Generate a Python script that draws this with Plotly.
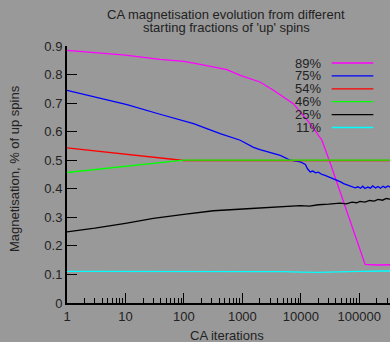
import plotly.graph_objects as go

# ---- data ----
names = ["89%", "75%", "54%", "46%", "25%", "11%"]
colors = ["#ff00ff", "#0000ff", "#ff0000", "#00ff00", "#000000", "#00ffff"]

x89 = [1, 10, 39, 100, 190, 543, 920, 2000, 3400, 7450, 14400, 23000, 31800, 60000, 103000, 126000, 200000, 336000]
y89 = [0.885, 0.868, 0.853, 0.846, 0.836, 0.817, 0.797, 0.774, 0.745, 0.698, 0.628, 0.570, 0.490, 0.327, 0.190, 0.135, 0.133, 0.134]

x75 = [1, 10.6, 39, 146, 417, 920, 1550, 2000, 4450, 6600, 9800, 11000, 12000, 13000, 14500, 16000, 18000, 20000,
       23000, 26000, 29000, 32000, 36000, 40000, 44000, 48000, 54000, 60000, 68000, 76000, 85000, 95000, 105000,
       115000, 125000, 140000, 155000, 170000, 190000, 210000, 230000, 255000, 280000, 310000, 336000]
y75 = [0.745, 0.695, 0.661, 0.628, 0.593, 0.570, 0.545, 0.537, 0.517, 0.500, 0.494, 0.488, 0.485, 0.470, 0.459, 0.462,
       0.456, 0.458, 0.450, 0.447, 0.443, 0.441, 0.436, 0.432, 0.428, 0.424, 0.418, 0.415, 0.410, 0.408, 0.403, 0.407,
       0.402, 0.409, 0.401, 0.406, 0.402, 0.410, 0.403, 0.408, 0.402, 0.409, 0.404, 0.410, 0.406]

x54 = [1, 100, 1000, 10000, 100000, 336000]
y54 = [0.543, 0.499, 0.499, 0.498, 0.499, 0.499]

x46 = [1, 100, 1000, 10000, 100000, 336000]
y46 = [0.457, 0.500, 0.500, 0.500, 0.500, 0.500]

x25 = [1, 3, 10, 30, 100, 320, 1200, 3400, 6000, 9800, 14000, 20000, 30000, 47000, 60000, 75000, 90000, 103000,
       125000, 150000, 180000, 210000, 250000, 290000, 336000]
y25 = [0.249, 0.262, 0.279, 0.296, 0.310, 0.323, 0.330, 0.336, 0.338, 0.341, 0.339, 0.344, 0.346, 0.350, 0.347,
       0.353, 0.351, 0.356, 0.353, 0.359, 0.357, 0.363, 0.360, 0.366, 0.364]

x11 = [1, 100, 1000, 5000, 10000, 15000, 20000, 30000, 50000, 100000, 336000]
y11 = [0.111, 0.111, 0.111, 0.110, 0.108, 0.106, 0.107, 0.108, 0.110, 0.111, 0.112]

xs = [x89, x75, x54, x46, x25, x11]
ys = [y89, y75, y54, y46, y25, y11]

xticks = [1, 10, 100, 1000, 10000, 100000]
xticklabels = ["1", "10", "100", "1000", "10000", "100000"]
yticks = [0, 0.1, 0.2, 0.3, 0.4, 0.5, 0.6, 0.7, 0.8, 0.9]

# ---- figure ----
W, H = 390, 342
L, R, T, B = 67, 0, 46, 39
FONT = "Liberation Sans, Arial, sans-serif"
TXT = "#222222"
BG = "#999999"

fig = go.Figure()
for n, c, x, y in zip(names, colors, xs, ys):
    fig.add_trace(go.Scatter(x=x, y=y, mode="lines", name=n,
                             line=dict(color=c, width=1.3), showlegend=False))

minor_vals = [k * 10 ** d for d in range(0, 6) for k in range(2, 10)]

fig.update_layout(
    width=W, height=H,
    margin=dict(l=L, r=R, t=T, b=B, pad=0),
    paper_bgcolor=BG, plot_bgcolor=BG,
    font=dict(family=FONT, size=13, color=TXT),
    xaxis=dict(type="log", range=[0, 5.526], showgrid=False, zeroline=False,
               showline=True, linecolor="black", linewidth=2,
               tickmode="array", tickvals=xticks, ticktext=xticklabels,
               ticks="inside", ticklen=10, tickwidth=1.2, tickcolor="black",
               minor=dict(tickvals=minor_vals, ticks="inside", ticklen=5,
                          tickwidth=1.2, tickcolor="black", showgrid=False),
               tickfont=dict(size=13, color=TXT)),
    yaxis=dict(range=[0, 0.9], showgrid=False, zeroline=False,
               showline=True, linecolor="black", linewidth=2,
               tickmode="array", tickvals=yticks,
               ticktext=["0", "0.1", "0.2", "0.3", "0.4", "0.5", "0.6", "0.7", "0.8", "0.9"],
               ticks="inside", ticklen=10, tickwidth=1.2, tickcolor="black",
               tickfont=dict(size=13, color=TXT)),
)

pw = W - L - R
ph = H - T - B
def px(xp):
    return (xp - L) / pw
def py(yp):
    return (H - B - yp) / ph

anns = [
    dict(text="CA magnetisation evolution from different", x=px(226), y=py(14)),
    dict(text="starting fractions of 'up' spins", x=px(226), y=py(27)),
    dict(text="CA iterations", x=px(226.7), y=py(335)),
]
for a in anns:
    fig.add_annotation(xref="paper", yref="paper", showarrow=False,
                       xanchor="center", yanchor="middle",
                       font=dict(size=13, color=TXT), **a)
fig.add_annotation(xref="paper", yref="paper", showarrow=False,
                   text="Magnetisation, % of up spins", textangle=-90,
                   x=px(14), y=py(169), xanchor="center", yanchor="middle",
                   font=dict(size=13, color=TXT))

# gnuplot-style key
row0, drow = 63, 12.9
for i, (n, c) in enumerate(zip(names, colors)):
    yy = py(row0 + i * drow)
    fig.add_annotation(xref="paper", yref="paper", showarrow=False, text=n,
                       x=px(323), y=yy, xanchor="right", yanchor="middle",
                       font=dict(size=13, color=TXT))
    fig.add_shape(type="line", xref="paper", yref="paper",
                  x0=px(331.7), x1=px(373.3), y0=yy, y1=yy,
                  line=dict(color=c, width=1.3))

fig.write_html("out.html")
